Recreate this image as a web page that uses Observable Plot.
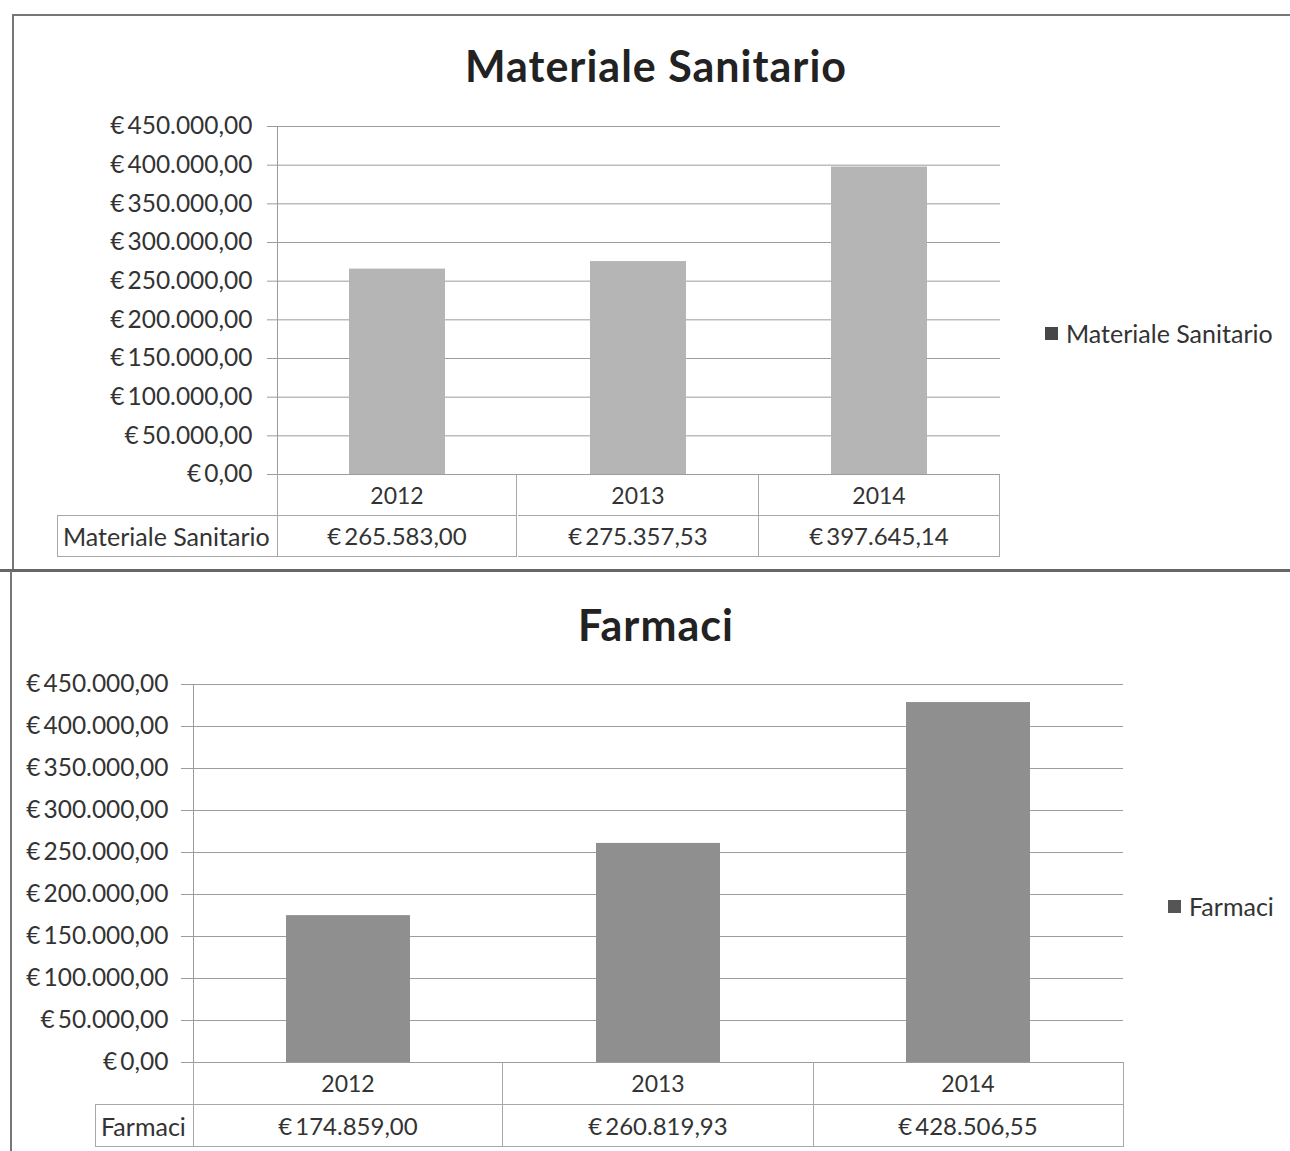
<!DOCTYPE html>
<html>
<head>
<meta charset="utf-8">
<script src="https://cdn.jsdelivr.net/npm/d3@7"></script>
<script src="https://cdn.jsdelivr.net/npm/@observablehq/plot@0.6"></script>
<style>
  body { margin: 0; background: #fff; }
  #page { position: relative; width: 1290px; height: 1151px; overflow: hidden; background: #fff;
          font-family: Lato, "Open Sans", sans-serif; color: #333; }
  .abs { position: absolute; box-sizing: border-box; }
  .title { font-weight: bold; font-size: 43px; letter-spacing: 1px; color: #222; text-align: center; white-space: nowrap; }
  .legend { font-size: 25px; white-space: nowrap; display: flex; align-items: center; }
  .legend .sw { display: inline-block; width: 13px; height: 13px; margin-right: 8px; }
  .cell { font-size: 24px; display: flex; align-items: center; justify-content: center; white-space: nowrap; }
  .cell.yr { font-size: 23px; }
  .cell.lab { justify-content: flex-start; padding-left: 5px; font-size: 25px; }
  .line { background: #777; }
  svg { position: absolute; left: 0; overflow: visible; }
</style>
</head>
<body>
<div id="page"></div>
<script>
// Annual spending by year (euro)
const years = ["2012", "2013", "2014"];
const materialeValues = [265583.00, 275357.53, 397645.14];
const farmaciValues = [174859.00, 260819.93, 428506.55];
const yTicks = [0, 50000, 100000, 150000, 200000, 250000, 300000, 350000, 400000, 450000];

// Italian currency format: "€ 450.000,00"
const itLocale = d3.formatLocale({decimal: ",", thousands: ".", grouping: [3], currency: ["€\u2009", ""]});
const euro = itLocale.format("$,.2f");

const page = document.getElementById("page");

function addDiv(cls, style, text) {
  const d = document.createElement("div");
  d.className = "abs " + cls;
  Object.assign(d.style, style);
  if (text != null) d.textContent = text;
  page.appendChild(d);
  return d;
}

// Outer chart frames
addDiv("line", {left: "12px", top: "14px", width: "1278px", height: "2px"});
addDiv("line", {left: "12px", top: "14px", width: "2px", height: "558px"});
addDiv("line", {left: "0px", top: "569px", width: "1290px", height: "3px", background: "#666"});
addDiv("line", {left: "10px", top: "571px", width: "2px", height: "580px"});

const charts = [
  {title: "Materiale Sanitario", series: "Materiale Sanitario", values: materialeValues,
   fill: "#b5b5b5", swatch: "#474747",
   left: 277, right: 1000, top: 126, bottom: 474, tickSize: 10, tickPadding: 15,
   titleY: 66, legendX: 1045, legendY: 333, rowH: 41, labelLeft: 57},
  {title: "Farmaci", series: "Farmaci", values: farmaciValues,
   fill: "#8f8f8f", swatch: "#555",
   left: 193, right: 1123, top: 684, bottom: 1062, tickSize: 12, tickPadding: 13,
   titleY: 625, legendX: 1168, legendY: 906, rowH: 42, labelLeft: 95}
];

for (const c of charts) {
  const data = years.map((year, i) => ({year, value: c.values[i]}));
  const padTop = 20, padBottom = 2;

  const plot = Plot.plot({
    width: 1290,
    height: c.bottom - c.top + padTop + padBottom,
    marginTop: padTop,
    marginBottom: padBottom,
    marginLeft: c.left,
    marginRight: 1290 - c.right,
    style: {fontFamily: "Lato, 'Open Sans', sans-serif", fontSize: "24.5px", color: "#333", background: "transparent"},
    x: {domain: years, paddingInner: 0.6, paddingOuter: 0.3, axis: null},
    y: {domain: [0, 450000], axis: null},
    marks: [
      Plot.gridY(yTicks, {stroke: "#9c9c9c", strokeOpacity: 1}),
      Plot.axisY(yTicks, {tickSize: c.tickSize, tickPadding: c.tickPadding, tickFormat: euro,
                          stroke: "#9c9c9c", fill: "#333", fontSize: 24.5, label: null}),
      Plot.frame({anchor: "left", stroke: "#9c9c9c"}),
      Plot.barY(data, {x: "year", y: "value", fill: c.fill})
    ]
  });
  plot.style.top = (c.top - padTop) + "px";
  page.appendChild(plot);

  // Title
  addDiv("title", {left: "356px", width: "600px", top: (c.titleY - 28) + "px", height: "56px", lineHeight: "56px"}, c.title);

  // Legend
  const lg = addDiv("legend", {left: c.legendX + "px", top: (c.legendY - 15) + "px", height: "30px"});
  const sw = document.createElement("span");
  sw.className = "sw";
  sw.style.background = c.swatch;
  lg.appendChild(sw);
  lg.appendChild(document.createTextNode(c.series));

  // Data table under the x axis, columns aligned with the band scale
  const xs = plot.scale("x");
  const bw = xs.bandwidth;
  const step = bw / 0.4;
  const gridC = "1px solid #a8a8a8";
  years.forEach((year, i) => {
    const x0 = xs.apply(year) - (step - bw) / 2;
    const common = {left: x0 + "px", width: (step + (i === 0 ? 0 : 1)) + "px", height: (c.rowH + 1) + "px",
                    borderRight: gridC, borderBottom: gridC};
    if (i === 0) common.borderLeft = gridC;
    addDiv("cell yr", {...common, top: c.bottom + "px"}, year);
    addDiv("cell", {...common, top: (c.bottom + c.rowH) + "px"}, euro(c.values[i]));
  });
  addDiv("cell lab", {left: c.labelLeft + "px", width: (c.left - c.labelLeft + 1) + "px",
                      top: (c.bottom + c.rowH) + "px", height: (c.rowH + 1) + "px",
                      border: gridC}, c.series);
}
</script>
</body>
</html>
